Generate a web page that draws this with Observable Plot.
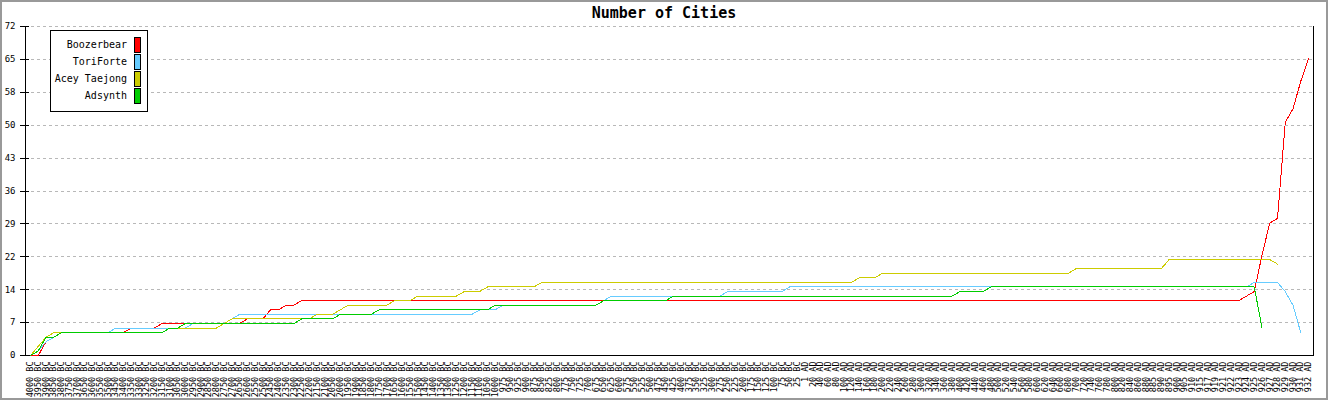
<!DOCTYPE html>
<html><head><meta charset="utf-8">
<script src="https://cdn.jsdelivr.net/npm/d3@7"></script>
<script src="https://cdn.jsdelivr.net/npm/@observablehq/plot@0.6"></script>
<style>
body{margin:0;background:#fff;}
#wrap{position:relative;width:1328px;height:400px;overflow:hidden;font-family:"DejaVu Sans Mono",monospace;background:#fff;}
#border{position:absolute;left:0;top:0;width:1328px;height:400px;box-sizing:border-box;border:2px solid #999;pointer-events:none;}
#title{position:absolute;left:0;top:6px;width:1328px;text-align:center;font:bold 15px/15px "DejaVu Sans Mono",monospace;color:#000;}
#legend{position:absolute;left:50px;top:30px;width:98px;height:82px;box-sizing:border-box;border:1px solid #000;background:#fff;}
.lab{position:absolute;right:20px;font:10px/12px "DejaVu Sans Mono",monospace;white-space:nowrap;color:#000;}
.sw{position:absolute;left:83px;width:5px;height:14px;border:1px solid #000;}
</style>
</head><body>
<div id="wrap">
<div id="chart"></div>
<div id="title">Number of Cities</div>
<div id="legend"></div>
<div id="border"></div>
</div>
<script>
const turns = ["4000 BC","3950 BC","3900 BC","3850 BC","3800 BC","3750 BC","3700 BC","3650 BC","3600 BC","3550 BC",
"3500 BC","3450 BC","3400 BC","3350 BC","3300 BC","3250 BC","3200 BC","3150 BC","3100 BC","3050 BC",
"3000 BC","2950 BC","2900 BC","2850 BC","2800 BC","2750 BC","2700 BC","2650 BC","2600 BC","2550 BC",
"2500 BC","2450 BC","2400 BC","2350 BC","2300 BC","2250 BC","2200 BC","2150 BC","2100 BC","2050 BC",
"2000 BC","1950 BC","1900 BC","1850 BC","1800 BC","1750 BC","1700 BC","1650 BC","1600 BC","1550 BC",
"1500 BC","1450 BC","1400 BC","1350 BC","1300 BC","1250 BC","1200 BC","1150 BC","1100 BC","1050 BC",
"1000 BC","975 BC","950 BC","925 BC","900 BC","875 BC","850 BC","825 BC","800 BC","775 BC",
"750 BC","725 BC","700 BC","675 BC","650 BC","625 BC","600 BC","575 BC","550 BC","525 BC",
"500 BC","475 BC","450 BC","425 BC","400 BC","375 BC","350 BC","325 BC","300 BC","275 BC",
"250 BC","225 BC","200 BC","175 BC","150 BC","125 BC","100 BC","75 BC","50 BC","25 BC",
"1 AD","20 AD","40 AD","60 AD","80 AD","100 AD","120 AD","140 AD","160 AD","180 AD",
"200 AD","220 AD","240 AD","260 AD","280 AD","300 AD","320 AD","340 AD","360 AD","380 AD",
"400 AD","420 AD","440 AD","460 AD","480 AD","500 AD","520 AD","540 AD","560 AD","580 AD",
"600 AD","620 AD","640 AD","660 AD","680 AD","700 AD","720 AD","740 AD","760 AD","780 AD",
"800 AD","820 AD","840 AD","860 AD","880 AD","885 AD","890 AD","895 AD","900 AD","905 AD",
"910 AD","915 AD","917 AD","919 AD","921 AD","922 AD","923 AD","924 AD","925 AD","926 AD",
"927 AD","928 AD","929 AD","930 AD","931 AD","932 AD"];

const civs = ["Boozerbear","ToriForte","Acey Taejong","Adsynth"];
const colors = ["#ff0000","#66ccff","#cccc00","#00cc00"];

const boozerbear = [0,0,3,4,5,5,5,5,5,5,
5,5,5,6,6,6,6,7,7,7,
7,7,7,7,7,7,7,7,8,8,
8,10,10,11,11,12,12,12,12,12,
12,12,12,12,12,12,12,12,12,12,
12,12,12,12,12,12,12,12,12,12,
12,12,12,12,12,12,12,12,12,12,
12,12,12,12,12,12,12,12,12,12,
12,12,12,12,12,12,12,12,12,12,
12,12,12,12,12,12,12,12,12,12,
12,12,12,12,12,12,12,12,12,12,
12,12,12,12,12,12,12,12,12,12,
12,12,12,12,12,12,12,12,12,12,
12,12,12,12,12,12,12,12,12,12,
12,12,12,12,12,12,12,12,12,12,
12,12,12,12,12,12,12,13,14,22,
29,30,51,54,60,65];

const toriForte = [0,1,3,4,5,5,5,5,5,5,
5,6,6,6,6,6,6,6,6,6,
6,7,7,7,7,7,8,9,9,9,
9,9,9,9,9,9,9,9,9,9,
9,9,9,9,9,9,9,9,9,9,
9,9,9,9,9,9,9,9,10,10,
10,11,11,11,11,11,11,11,11,11,
11,11,11,11,12,13,13,13,13,13,
13,13,13,13,13,13,13,13,13,13,
14,14,14,14,14,14,14,14,15,15,
15,15,15,15,15,15,15,15,15,15,
15,15,15,15,15,15,15,15,15,15,
15,15,15,15,15,15,15,15,15,15,
15,15,15,15,15,15,15,15,15,15,
15,15,15,15,15,15,15,15,15,15,
15,15,15,15,15,15,15,15,16,16,
16,16,14,11,5,null];

const aceyTaejong = [0,2,4,5,5,5,5,5,5,5,
5,5,5,5,5,5,5,5,6,6,
6,6,6,6,6,7,8,8,8,8,
8,8,8,8,8,8,8,9,9,9,
10,11,11,11,11,11,11,12,12,12,
13,13,13,13,13,13,14,14,14,15,
15,15,15,15,15,15,16,16,16,16,
16,16,16,16,16,16,16,16,16,16,
16,16,16,16,16,16,16,16,16,16,
16,16,16,16,16,16,16,16,16,16,
16,16,16,16,16,16,16,17,17,17,
18,18,18,18,18,18,18,18,18,18,
18,18,18,18,18,18,18,18,18,18,
18,18,18,18,18,19,19,19,19,19,
19,19,19,19,19,19,19,21,21,21,
21,21,21,21,21,21,21,21,21,21,
21,20,null,null,null,null];

const adsynth = [0,1,4,4,5,5,5,5,5,5,
5,5,5,5,5,5,5,5,6,6,
7,7,7,7,7,7,7,7,7,7,
7,7,7,7,7,8,8,8,8,8,
9,9,9,9,9,10,10,10,10,10,
10,10,10,10,10,10,10,10,10,10,
11,11,11,11,11,11,11,11,11,11,
11,11,11,11,12,12,12,12,12,12,
12,12,12,13,13,13,13,13,13,13,
13,13,13,13,13,13,13,13,13,13,
13,13,13,13,13,13,13,13,13,13,
13,13,13,13,13,13,13,13,13,13,
14,14,14,14,15,15,15,15,15,15,
15,15,15,15,15,15,15,15,15,15,
15,15,15,15,15,15,15,15,15,15,
15,15,15,15,15,15,15,15,15,6,
null,null,null,null,null,null];

const yTicks = [0,7.2,14.4,21.6,28.8,36,43.2,50.4,57.6,64.8,72];

const seriesValues = [boozerbear, toriForte, aceyTaejong, adsynth];
const rows = [];
civs.forEach((c, k) => {
  seriesValues[k].forEach((v, i) => {
    if (v !== null) rows.push({civ: c, turn: turns[i], value: v});
  });
});

const chart = Plot.plot({
  width: 1328,
  height: 400,
  marginLeft: 25,
  marginRight: 15,
  marginTop: 26,
  marginBottom: 45,
  style: {fontFamily: "'DejaVu Sans Mono', monospace", fontSize: "8px", background: "transparent", color: "#000"},
  x: {type: "point", domain: turns, padding: 0.6455},
  y: {domain: [0, 72]},
  color: {domain: civs, range: colors},
  marks: [
    Plot.gridY(yTicks, {stroke: "#b8b8b8", strokeOpacity: 1, strokeDasharray: "3,3", shapeRendering: "crispEdges"}),
    Plot.axisY(yTicks, {tickFormat: d => Math.round(d), tickSize: 9, dx: 4, tickPadding: 5, label: null, fontSize: 9, shapeRendering: "crispEdges"}),
    Plot.axisX({tickSize: 0, tickRotate: -90, tickPadding: 6, label: null, fontSize: 8.5}),
    Plot.frame({anchor: "left", stroke: "#000", shapeRendering: "crispEdges"}),
    Plot.frame({anchor: "right", stroke: "#000", shapeRendering: "crispEdges"}),
    Plot.frame({anchor: "bottom", stroke: "#000", shapeRendering: "crispEdges"}),
    Plot.line(rows, {x: "turn", y: "value", z: "civ", stroke: "civ", strokeWidth: 1, shapeRendering: "crispEdges"})
  ]
});
document.getElementById("chart").appendChild(chart);

const legend = document.getElementById("legend");
civs.forEach((c, k) => {
  const t = document.createElement("div");
  t.className = "lab";
  t.style.top = (8 + 17 * k) + "px";
  t.textContent = c;
  legend.appendChild(t);
  const s = document.createElement("div");
  s.className = "sw";
  s.style.top = (6 + 17 * k) + "px";
  s.style.background = colors[k];
  legend.appendChild(s);
});
</script>
</body></html>
